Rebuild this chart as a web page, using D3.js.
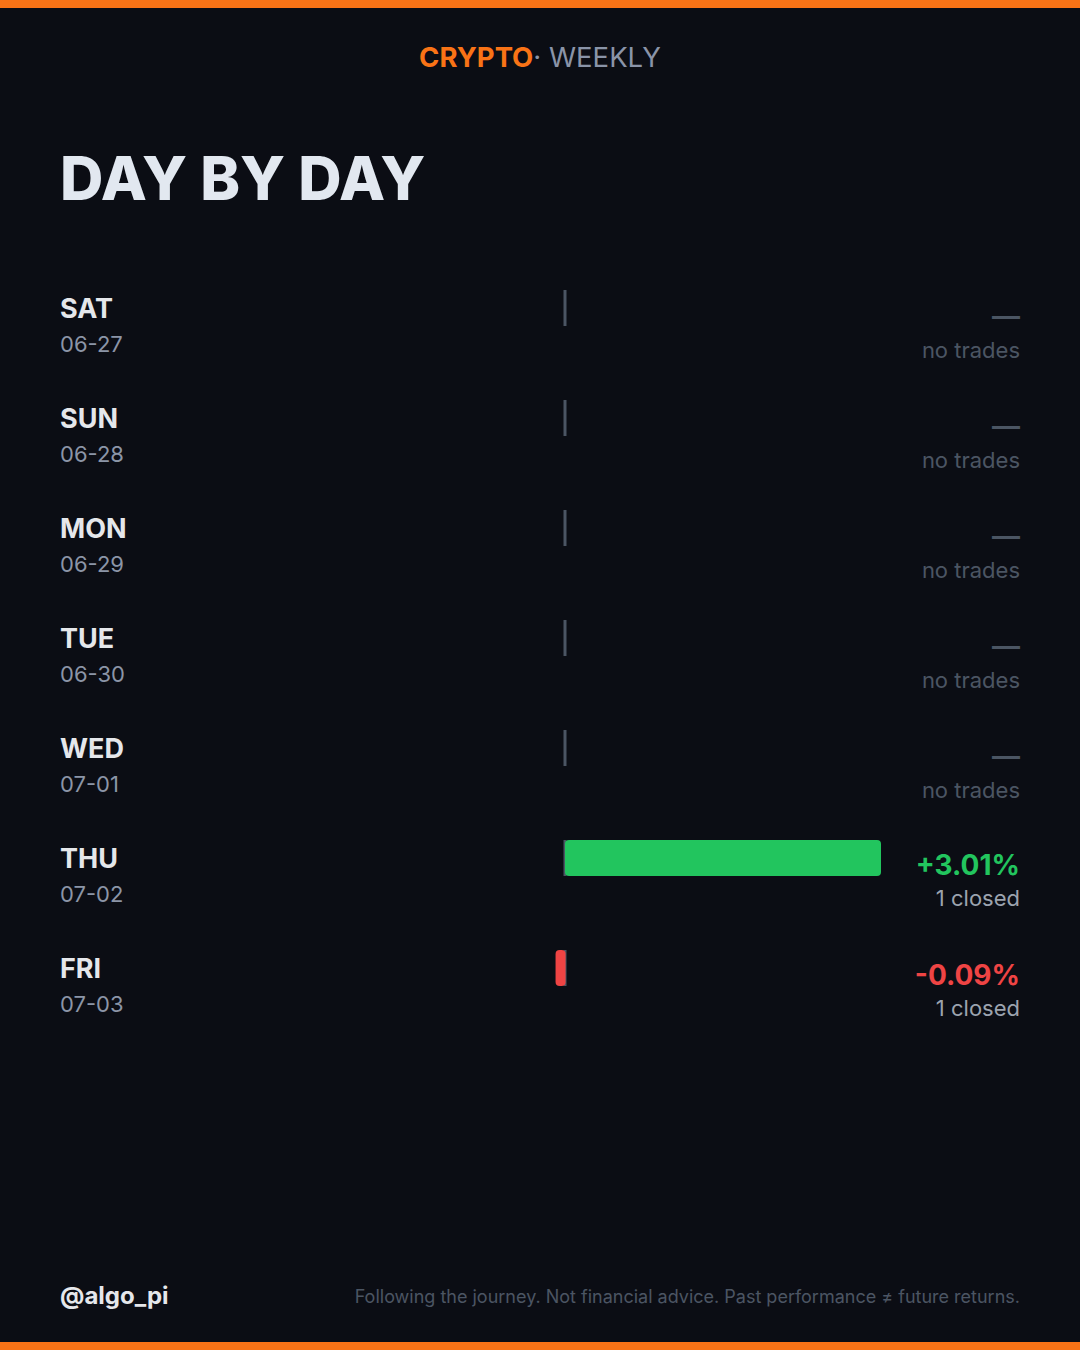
<!DOCTYPE html>
<html>
<head>
<meta charset="utf-8">
<script src="https://cdn.jsdelivr.net/npm/d3@7"></script>
<style>
  html, body { margin: 0; padding: 0; background: #0b0d14; }
  svg { display: block; }
</style>
</head>
<body>
<div id="chart"></div>
<script>
  // week data
  const days = ["SAT", "SUN", "MON", "TUE", "WED", "THU", "FRI"];
  const dates = ["06-27", "06-28", "06-29", "06-30", "07-01", "07-02", "07-03"];
  const returns = [null, null, null, null, null, 3.01, -0.09];
  const closed = [0, 0, 0, 0, 0, 1, 1];

  const width = 1080;
  const height = 1350;
  const font = "Inter, 'Noto Sans', sans-serif";

  const green = "#22c55e";
  const red = "#ef4444";
  const orange = "#f97316";
  const muted = "#4b5563";

  const rows = days.map((d, i) => ({
    day: d,
    date: dates[i],
    value: returns[i],
    closed: closed[i],
  }));

  const svg = d3
    .select("#chart")
    .append("svg")
    .attr("width", width)
    .attr("height", height)
    .attr("viewBox", [0, 0, width, height])
    .style("font-family", font);

  svg.append("rect").attr("width", width).attr("height", height).attr("fill", "#0b0d14");

  // orange strips top and bottom
  svg.append("rect").attr("width", width).attr("height", 8).attr("fill", orange);
  svg.append("rect").attr("y", height - 8).attr("width", width).attr("height", 8).attr("fill", orange);

  // header
  const head = svg
    .append("text")
    .attr("x", width / 2)
    .attr("y", 67)
    .attr("text-anchor", "middle")
    .attr("font-size", 27.5);
  head.append("tspan").attr("fill", orange).attr("font-weight", 700).text("CRYPTO");
  head.append("tspan").attr("fill", "#8a94a8").attr("font-weight", 400).text("· WEEKLY");

  svg
    .append("text")
    .attr("x", 60)
    .attr("y", 200)
    .attr("fill", "#e2e8f0")
    .attr("font-size", 60)
    .attr("font-weight", 800)
    .text("DAY BY DAY");

  const y = d3
    .scaleBand()
    .domain(d3.range(rows.length))
    .range([290, 290 + 110 * rows.length])
    .paddingInner(0);

  const x = d3
    .scaleLinear()
    .domain([0, d3.max(returns)])
    .range([565, 881]);

  const barH = 36;

  const row = svg
    .selectAll("g.row")
    .data(rows)
    .join("g")
    .attr("class", "row")
    .attr("transform", (d, i) => `translate(0, ${y(i)})`);

  row
    .append("text")
    .attr("x", 60)
    .attr("y", 28)
    .attr("fill", "#e5e7eb")
    .attr("font-size", 27)
    .attr("font-weight", 700)
    .text((d) => d.day);

  row
    .append("text")
    .attr("x", 60)
    .attr("y", 62)
    .attr("fill", "#8b95a7")
    .attr("font-size", 22)
    .text((d) => d.date);

  // zero line
  row
    .append("rect")
    .attr("x", x(0) - 1.5)
    .attr("y", 0)
    .attr("width", 3)
    .attr("height", barH)
    .attr("fill", muted);

  // bars
  row
    .filter((d) => d.value !== null)
    .append("rect")
    .attr("x", (d) => Math.min(x(d.value), x(0)))
    .attr("y", 0)
    .attr("width", (d) => Math.max(Math.abs(x(d.value) - x(0)), 10))
    .attr("height", barH)
    .attr("rx", 4)
    .attr("fill", (d) => (d.value >= 0 ? green : red));

  // right side labels
  row
    .append("text")
    .attr("x", 1020)
    .attr("y", (d) => (d.value === null ? 36 : 35))
    .attr("text-anchor", "end")
    .attr("font-size", 28)
    .attr("font-weight", (d) => (d.value === null ? 600 : 700))
    .attr("fill", (d) => (d.value === null ? muted : d.value >= 0 ? green : red))
    .text((d) =>
      d.value === null ? "—" : (d.value >= 0 ? "+" : "") + d.value.toFixed(2) + "%"
    );

  row
    .append("text")
    .attr("x", 1020)
    .attr("y", (d) => (d.value === null ? 68 : 66))
    .attr("text-anchor", "end")
    .attr("font-size", 22)
    .attr("fill", (d) => (d.value === null ? muted : "#9ca3af"))
    .text((d) => (d.value === null ? "no trades" : `${d.closed} closed`));

  // footer
  svg
    .append("text")
    .attr("x", 60)
    .attr("y", 1304)
    .attr("fill", "#e5e7eb")
    .attr("font-size", 24)
    .attr("font-weight", 700)
    .text("@algo_pi");

  svg
    .append("text")
    .attr("x", 1020)
    .attr("y", 1303)
    .attr("text-anchor", "end")
    .attr("fill", muted)
    .attr("font-size", 18)
    .text("Following the journey. Not financial advice. Past performance ≠ future returns.");
</script>
</body>
</html>
